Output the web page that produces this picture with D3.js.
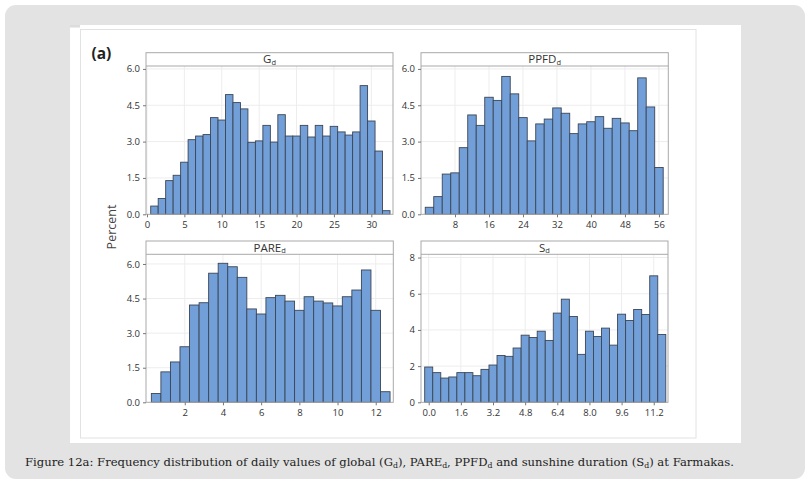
<!DOCTYPE html>
<html><head><meta charset="utf-8">
<script src="https://cdn.jsdelivr.net/npm/d3@7"></script>
<style>html,body{margin:0;padding:0;background:#fff;}svg{display:block;}</style>
</head><body>
<svg id="chart" width="811" height="486"></svg>
<script>
// ---- data ----
const gdTicks = [0, 5, 10, 15, 20, 25, 30];
const gdBinStart = 0.5, gdBinWidth = 1;
const gdPercent = [0.34,0.65,1.39,1.61,2.15,3.08,3.23,3.29,3.99,3.89,4.94,4.61,4.35,2.97,3.03,3.67,2.98,4.11,3.23,3.23,3.67,3.19,3.67,3.23,3.63,3.40,3.27,3.40,5.31,3.85,2.61,0.15];

const ppfdTicks = [8, 16, 24, 32, 40, 48, 56];
const ppfdBinStart = 1, ppfdBinWidth = 2;
const ppfdPercent = [0.29,0.73,1.66,1.71,2.75,4.10,3.67,4.83,4.70,5.69,4.97,3.99,3.03,3.73,3.93,4.39,4.17,3.33,3.73,3.82,4.03,3.55,3.96,3.77,3.45,5.63,4.43,1.93];

const pareTicks = [2, 4, 6, 8, 10, 12];
const pareBinStart = 0.25, pareBinWidth = 0.5;
const parePercent = [0.38,1.32,1.75,2.41,4.22,4.32,5.60,6.03,5.88,5.42,4.05,3.83,4.54,4.64,4.39,3.99,4.58,4.39,4.31,4.18,4.58,4.87,5.74,3.99,0.46];

const sdTicks = [0.0, 1.6, 3.2, 4.8, 6.4, 8.0, 9.6, 11.2];
const sdBinStart = -0.2, sdBinWidth = 0.4;
const sdPercent = [1.95,1.64,1.34,1.40,1.64,1.64,1.47,1.82,2.06,2.59,2.54,3.00,3.71,3.58,3.93,3.42,4.93,5.70,4.74,2.65,3.93,3.64,4.10,3.16,4.87,4.52,5.13,4.85,6.99,3.75];

const pctTicks = [0, 1.5, 3.0, 4.5, 6.0];
const sdPctTicks = [0, 2, 4, 6, 8];

const titles = [["G","d"],["PPFD","d"],["PARE","d"],["S","d"]];
const yLabel = "Percent";
const panelLabel = "(a)";

// ---- drawing ----
const svg = d3.select("#chart");
const FONT = "'Open Sans','Noto Sans',sans-serif";

svg.append("rect").attr("x",5).attr("y",5).attr("width",800).attr("height",474)
  .attr("rx",11).attr("fill","#e3e3e3");
svg.append("rect").attr("x",70).attr("y",25).attr("width",671).attr("height",418).attr("fill","#fff");
svg.append("rect").attr("x",80.5).attr("y",29.5).attr("width",615.5).attr("height",408.5)
  .attr("fill","none").attr("stroke","#e2e2e2").attr("stroke-width",1);
svg.append("rect").attr("x",70).attr("y",25).attr("width",10).attr("height",2.5).attr("fill","#dcdcdc");

const panels = [
  {vals:gdPercent, start:gdBinStart, w:gdBinWidth, xt:gdTicks, yt:pctTicks, fmtx:d3.format("d"), fmty:d3.format(".1f"),
   title:titles[0], L:146, R:393, sT:52.7, pT:66, B:214.3, xd:[-0.13,32.9], yd:[0,6.12]},
  {vals:ppfdPercent, start:ppfdBinStart, w:ppfdBinWidth, xt:ppfdTicks, yt:pctTicks, fmtx:d3.format("d"), fmty:d3.format(".1f"),
   title:titles[1], L:421, R:668.3, sT:52.7, pT:66, B:214.3, xd:[0,58.2], yd:[0,6.12]},
  {vals:parePercent, start:pareBinStart, w:pareBinWidth, xt:pareTicks, yt:pctTicks, fmtx:d3.format("d"), fmty:d3.format(".1f"),
   title:titles[2], L:146, R:393.3, sT:241, pT:254.3, B:402.3, xd:[-0.03,12.92], yd:[0,6.42]},
  {vals:sdPercent, start:sdBinStart, w:sdBinWidth, xt:sdTicks, yt:sdPctTicks, fmtx:d3.format(".1f"), fmty:d3.format("d"),
   title:titles[3], L:421, R:668, sT:241, pT:254.3, B:402.3, xd:[-0.384,11.91], yd:[0,8.18]}
];

panels.forEach(p => {
  const x = d3.scaleLinear().domain(p.xd).range([p.L, p.R]);
  const y = d3.scaleLinear().domain(p.yd).range([p.B, p.pT]);
  const g = svg.append("g");
  // gridlines
  g.selectAll(".gx").data(p.xt).join("line")
    .attr("x1",d=>x(d)).attr("x2",d=>x(d)).attr("y1",p.pT).attr("y2",p.B)
    .attr("stroke","#ededed").attr("stroke-width",1);
  g.selectAll(".gy").data(p.yt.filter(d=>d>0)).join("line")
    .attr("x1",p.L).attr("x2",p.R).attr("y1",d=>y(d)).attr("y2",d=>y(d))
    .attr("stroke","#ededed").attr("stroke-width",1);
  // bars
  g.selectAll(".bar").data(p.vals).join("rect")
    .attr("x",(d,i)=>x(p.start+i*p.w))
    .attr("width",(d,i)=>x(p.start+(i+1)*p.w)-x(p.start+i*p.w))
    .attr("y",d=>y(d)).attr("height",d=>p.B-y(d))
    .attr("fill","#729fd8").attr("stroke","#3b4656").attr("stroke-width",0.9);
  // frame
  g.append("rect").attr("x",p.L).attr("y",p.sT).attr("width",p.R-p.L).attr("height",p.B-p.sT)
    .attr("fill","none").attr("stroke","#a9a9a9").attr("stroke-width",1);
  g.append("line").attr("x1",p.L).attr("x2",p.R).attr("y1",p.pT).attr("y2",p.pT)
    .attr("stroke","#a9a9a9").attr("stroke-width",1);
  // strip title
  const t = g.append("text").attr("x",(p.L+p.R)/2).attr("y",p.pT-2.8)
    .attr("text-anchor","middle").attr("font-family",FONT).attr("font-size",11.5).attr("fill","#333");
  t.append("tspan").text(p.title[0]);
  t.append("tspan").attr("font-size",7.5).attr("dy",1.5).text(p.title[1]);
  // axes
  const ax = d3.axisBottom(x).tickValues(p.xt).tickFormat(p.fmtx).tickSize(3).tickPadding(4);
  const gx = g.append("g").attr("transform",`translate(0,${p.B})`).call(ax);
  const ay = d3.axisLeft(y).tickValues(p.yt).tickFormat(p.fmty).tickSize(3).tickPadding(3);
  const gy = g.append("g").attr("transform",`translate(${p.L},0)`).call(ay);
  [gx,gy].forEach(a=>{
    a.select(".domain").remove();
    a.selectAll(".tick line").attr("stroke","#777");
    a.selectAll(".tick text").attr("font-family",FONT).attr("font-size",9.5).attr("fill","#333");
  });
});

svg.append("text").attr("transform","translate(115.5,227) rotate(-90)")
  .attr("text-anchor","middle").attr("font-family",FONT).attr("font-size",12.5).attr("fill","#444").text(yLabel);
svg.append("text").attr("x",91.5).attr("y",58.5).attr("font-family","'Open Sans',sans-serif")
  .attr("font-weight","bold").attr("font-size",15.5).attr("fill","#222").text(panelLabel);

// caption
const cap = svg.append("text").attr("x",25).attr("y",466).attr("font-family","'DejaVu Serif',serif")
  .attr("font-size",12).attr("fill","#222");
const parts = [["Figure 12a: Frequency distribution of daily values of global (G",0],["d",1],["), PARE",0],["d",1],[", PPFD",0],["d",1],[" and sunshine duration (S",0],["d",1],[") at Farmakas.",0]];
parts.forEach(([s,sub])=>{
  const ts = cap.append("tspan").text(s);
  if(sub) ts.attr("font-size",8).attr("baseline-shift","-30%");
});
const len = cap.node().getComputedTextLength();
const target = 710;
cap.attr("font-size", 12*target/len);
cap.selectAll("tspan").filter(function(){return d3.select(this).attr("font-size");})
  .attr("font-size", 8*target/len);
</script>
</body></html>
